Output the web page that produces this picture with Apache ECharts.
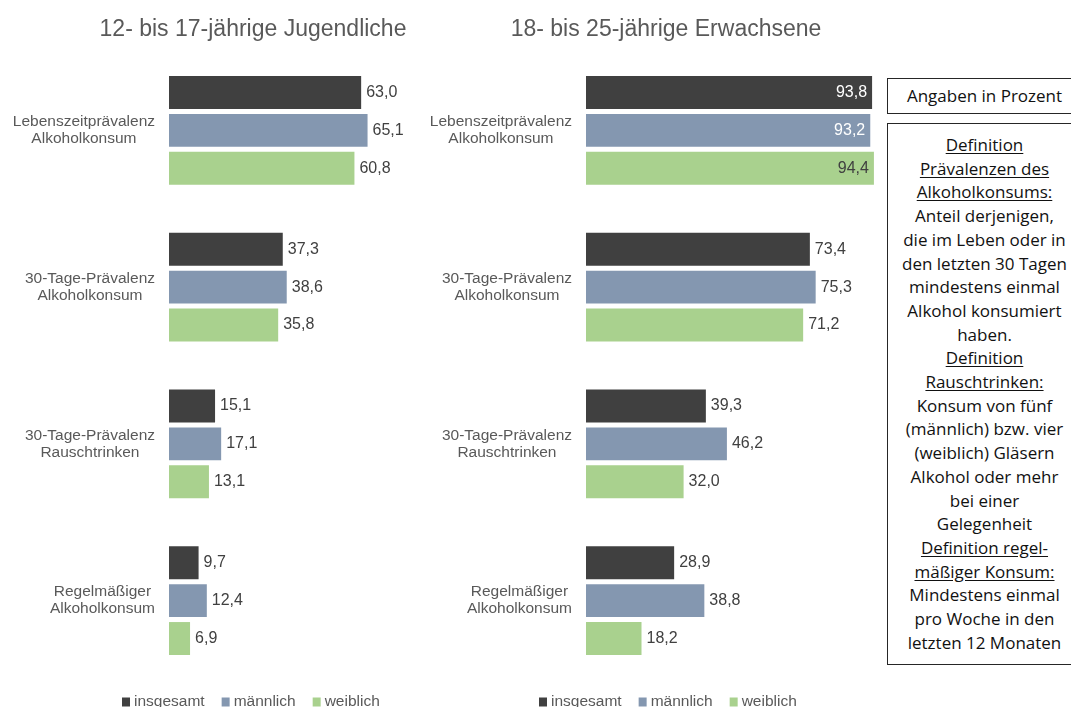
<!DOCTYPE html>
<html>
<head>
<meta charset="utf-8">
<script src="https://cdn.jsdelivr.net/npm/echarts@6/dist/echarts.min.js"></script>
<style>
  html, body { margin: 0; padding: 0; background: #fff; }
  #wrap { position: relative; width: 1071px; height: 707px; overflow: hidden; }
  #main { position: absolute; left: 0; top: 0; width: 1071px; height: 707px; }
  .box {
    position: absolute; left: 887px; width: 195px; box-sizing: border-box;
    border: 1px solid #262626; background: #fff;
    font-family: "Open Sans", sans-serif; color: #111; text-align: center;
  }
  #unit { top: 78px; height: 36px; font-size: 17px; line-height: 34px; }
  #def { top: 123px; height: 542px; font-size: 17px; line-height: 23.7px; padding-top: 9px; }
  #def u { text-decoration: underline; text-underline-offset: 2px; }
</style>
</head>
<body>
<div id="wrap">
  <div id="main"></div>
  <div class="box" id="unit">Angaben in Prozent</div>
  <div class="box" id="def">
    <u>Definition</u><br><u>Prävalenzen des</u><br><u>Alkoholkonsums:</u><br>
    Anteil derjenigen,<br>die im Leben oder in<br>den letzten 30 Tagen<br>mindestens einmal<br>Alkohol konsumiert<br>haben.<br>
    <u>Definition</u><br><u>Rauschtrinken:</u><br>
    Konsum von fünf<br>(männlich) bzw. vier<br>(weiblich) Gläsern<br>Alkohol oder mehr<br>bei einer<br>Gelegenheit<br>
    <u>Definition regel-</u><br><u>mäßiger Konsum:</u><br>
    Mindestens einmal<br>pro Woche in den<br>letzten 12 Monaten
  </div>
</div>
<script>
// Kategorien (von oben nach unten)
const categories = [
  'Lebenszeitprävalenz\nAlkoholkonsum',
  '30-Tage-Prävalenz\nAlkoholkonsum',
  '30-Tage-Prävalenz\nRauschtrinken',
  'Regelmäßiger\nAlkoholkonsum'
];
const seriesNames = ['insgesamt', 'männlich', 'weiblich'];
const colors = ['#404040', '#8497B0', '#A9D18E'];

// 12- bis 17-jährige Jugendliche
const jugInsgesamt = [63.0, 37.3, 15.1, 9.7];
const jugMaennlich = [65.1, 38.6, 17.1, 12.4];
const jugWeiblich = [60.8, 35.8, 13.1, 6.9];

// 18- bis 25-jährige Erwachsene
const erwInsgesamt = [93.8, 73.4, 39.3, 28.9];
const erwMaennlich = [93.2, 75.3, 46.2, 38.8];
const erwWeiblich = [94.4, 71.2, 32.0, 18.2];

const titles = ['12- bis 17-jährige Jugendliche', '18- bis 25-jährige Erwachsene'];

const FONT = '"Liberation Sans", Arial, sans-serif';

const chart = echarts.init(document.getElementById('main'));

function fmt(v) {
  return v.toFixed(1).replace('.', ',');
}

// Labels, die nicht mehr neben den Balken passen, kommen in den Balken
function toData(values, colorInside) {
  return values.map(v => v > 90
    ? { value: v, label: { position: 'insideRight', color: colorInside } }
    : v);
}

function makeSeries(gridIdx, sets) {
  return sets.map((vals, i) => ({
    name: seriesNames[i],
    type: 'bar',
    xAxisIndex: gridIdx,
    yAxisIndex: gridIdx,
    data: toData(vals, i === 2 ? '#404040' : '#ffffff'),
    itemStyle: { color: colors[i] },
    barGap: '15%',
    barCategoryGap: '30.6%',
    label: {
      show: true,
      position: 'right',
      distance: 5,
      color: '#404040',
      fontSize: 16,
      fontFamily: FONT,
      formatter: p => fmt(p.value)
    }
  }));
}

const yAxisBase = {
  type: 'category',
  data: categories,
  inverse: true,
  axisLine: { show: false },
  axisTick: { show: false },
  axisLabel: {
    margin: 14,
    formatter: v => v.split('\n').map(s => '{c|' + s + '}').join('\n'),
    rich: {
      c: {
        align: 'center',
        color: '#595959',
        fontSize: 15.5,
        lineHeight: 17,
        fontFamily: FONT
      }
    }
  }
};

const xAxisBase = { type: 'value', min: 0, max: 100, show: false };

const legendBase = {
  top: 689,
  icon: 'rect',
  itemWidth: 8,
  itemHeight: 9,
  itemGap: 17,
  data: seriesNames,
  textStyle: { color: '#595959', fontSize: 15.5, fontFamily: FONT, padding: [0, 0, 0, -1] }
};

const titleStyle = { color: '#595959', fontSize: 23, fontWeight: 'normal', fontFamily: FONT };

chart.setOption({
  animation: false,
  title: [
    { text: titles[0], left: 248, top: 13, textAlign: 'center', textStyle: titleStyle },
    { text: titles[1], left: 661, top: 13, textAlign: 'center', textStyle: titleStyle }
  ],
  legend: [
    Object.assign({ left: 117 }, legendBase),
    Object.assign({ left: 534 }, legendBase)
  ],
  grid: [
    { left: 169, top: 52, width: 305, height: 627 },
    { left: 586, top: 52, width: 305, height: 627 }
  ],
  xAxis: [
    Object.assign({ gridIndex: 0 }, xAxisBase),
    Object.assign({ gridIndex: 1 }, xAxisBase)
  ],
  yAxis: [
    Object.assign({ gridIndex: 0 }, yAxisBase),
    Object.assign({ gridIndex: 1 }, yAxisBase)
  ],
  series: [
    ...makeSeries(0, [jugInsgesamt, jugMaennlich, jugWeiblich]),
    ...makeSeries(1, [erwInsgesamt, erwMaennlich, erwWeiblich])
  ]
});
</script>
</body>
</html>
